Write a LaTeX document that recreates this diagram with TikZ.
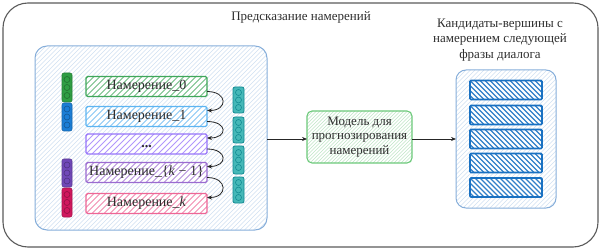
\documentclass[tikz,border=0pt]{standalone}
\usepackage{fontspec}
\setmainfont{Liberation Serif}
\usetikzlibrary{arrows.meta}
\definecolor{outerc}{HTML}{5A5A5A}
\definecolor{panelc}{HTML}{86AEDA}
\definecolor{panelh}{HTML}{CFE0F2}
\definecolor{gstroke}{HTML}{3FA75A}
\definecolor{bstroke}{HTML}{5DB5F2}
\definecolor{pstroke}{HTML}{9775FA}
\definecolor{vstroke}{HTML}{9B6BD0}
\definecolor{rstroke}{HTML}{EE6696}
\definecolor{gbarc}{HTML}{2F9E44}
\definecolor{bbarc}{HTML}{1C7ED6}
\definecolor{pbarc}{HTML}{7048B8}
\definecolor{rbarc}{HTML}{D0185E}
\definecolor{tealf}{HTML}{45B8B8}
\definecolor{teald}{HTML}{128A92}
\definecolor{modelc}{HTML}{6CC97A}
\definecolor{modelh}{HTML}{BFE6C6}
\definecolor{candc}{HTML}{1971C2}
\definecolor{txt}{HTML}{2E2E2E}
\begin{document}
\begin{tikzpicture}[x=1pt,y=1pt,
  every node/.style={inner sep=0pt, outer sep=0pt, text=txt},
  outerbox/.style={draw=outerc, line width=1.1pt, rounded corners=25pt},
  panelbox/.style={draw=panelc, line width=1pt, rounded corners=12pt, fill=white,
    path picture={\foreach \k in {-200,-195.5,...,240}
      \draw[panelh, line width=0.5pt] ([xshift=\k pt]path picture bounding box.south west) -- ++(200,200);}},
  intent/.style={draw=#1, line width=1.2pt, rounded corners=1.5pt,
    minimum width=121pt, minimum height=20pt, fill=white,
    path picture={\foreach \k in {-30,-24,...,130}
      \draw[#1!75, line width=1pt] ([xshift=\k pt]path picture bounding box.south west) -- ++(30,30);}},
  ilabel/.style={font=\fontsize{14}{16}\selectfont, fill=none},
  vbar/.style={draw=#1!80!black, fill=#1, line width=0.6pt, rounded corners=2pt,
    minimum width=10pt, minimum height=28pt},
  tbar/.style={draw=teald, fill=tealf, line width=0.8pt, rounded corners=2pt,
    minimum width=11pt, minimum height=26pt},
  dotc/.style={draw=#1, line width=0.6pt},
  model/.style={draw=modelc, line width=1.1pt, rounded corners=5pt,
    minimum width=105pt, minimum height=52pt, fill=white,
    path picture={\foreach \k in {-60,-56.5,...,110}
      \draw[modelh, line width=0.5pt] ([xshift=\k pt]path picture bounding box.south west) -- ++(60,60);}},
  mlabel/.style={font=\fontsize{13}{14.5}\selectfont, align=center},
  cand/.style={draw=candc, line width=1.6pt, rounded corners=1pt,
    minimum width=72pt, minimum height=19pt, fill=white,
    path picture={\foreach \k in {-30,-25,...,80}
      \draw[candc!90, line width=1.1pt] ([xshift=\k pt]path picture bounding box.north west) -- ++(30,-30);}},
  titlef/.style={font=\fontsize{13}{15.5}\selectfont, align=center},
  arr/.style={draw=black!85, line width=0.7pt, -{Stealth[length=5pt,width=4pt]}},
  carr/.style={draw=black!85, line width=0.8pt, -{Stealth[length=5pt,width=4pt]}}
]
\useasboundingbox (0,0) rectangle (605,-251);

\node[outerbox, minimum width=595pt, minimum height=244pt] (outer) at (300.5,-125) {};
\node[titlef] (title) at (301,-17) {Предсказание намерений};

% left panel
\node[panelbox, minimum width=232pt, minimum height=184pt] (lpanel) at (151,-138) {};

% left colored bars
\node[vbar=gbarc, minimum height=29pt] (gbar) at (67,-87.5) {};
\node[vbar=bbarc] (bbar) at (67,-117) {};
\node[vbar=pbarc] (pbar) at (67,-173) {};
\node[vbar=rbarc, minimum height=29pt] (rbar) at (67,-202.5) {};
\foreach \b/\c in {gbar/gbarc, bbar/bbarc, pbar/pbarc, rbar/rbarc}{
  \foreach \d in {-8,0,8}{
    \draw[dotc=\c!70!black] ([yshift=\d pt]\b.center) circle (3pt);
  }
}

% intents
\node[intent=gstroke] (i0) at (146.5,-86.5) {};
\node[intent=bstroke] (i1) at (146.5,-116.5) {};
\node[intent=pstroke] (i2) at (146.5,-144) {};
\node[intent=vstroke] (i3) at (146.5,-172.5) {};
\node[intent=rstroke] (i4) at (146.5,-203.5) {};
\node[ilabel] (i0t) at (i0) {Намерение\_0};
\node[ilabel] (i1t) at (i1) {Намерение\_1};
\node[ilabel] (i2t) at ([yshift=-3pt]i2.center) {\textbf{...}};
\node[ilabel] (i3t) at (i3) {Намерение\_\{\textit{k} − 1\}};
\node[ilabel] (i4t) at (i4) {Намерение\_\textit{k}};

\foreach \a/\b in {i0/i1, i1/i2, i2/i3, i3/i4}{
  \draw[carr] ([yshift=-5pt]\a.east) .. controls +(21,0) and +(21,0) .. ([yshift=6pt]\b.east);
}

% teal bars
\node[tbar] (t1) at (238.5,-100) {};
\node[tbar] (t2) at (238.5,-130) {};
\node[tbar, minimum height=28pt] (t3) at (238.5,-160) {};
\node[tbar] (t4) at (238.5,-190) {};
\foreach \b in {t1,t2,t3,t4}{
  \foreach \d in {-7.5,0,7.5}{
    \draw[dotc=teald] ([yshift=\d pt]\b.center) circle (3pt);
  }
}

% model
\node[model] (model) at (359.5,-137) {};
\node[mlabel] (modelt) at (model) {Модель для\\прогнозирования\\намерений};

% right panel
\node[titlef] (rtitle) at (500,-40) {Кандидаты-вершины с\\намерением следующей\\фразы диалога};
\node[panelbox, rounded corners=10pt, minimum width=100pt, minimum height=138pt] (rpanel) at (506,-139) {};
\node[cand] (c1) at (506,-90) {};
\node[cand] (c2) at (506,-115) {};
\node[cand] (c3) at (506,-139) {};
\node[cand] (c4) at (506,-163) {};
\node[cand] (c5) at (506,-187.5) {};

% connectors
\draw[arr] (lpanel.east |- 0,-139) -- (model.west |- 0,-139);
\draw[arr] (model.east |- 0,-139) -- (rpanel.west |- 0,-139);
\end{tikzpicture}
\end{document}
